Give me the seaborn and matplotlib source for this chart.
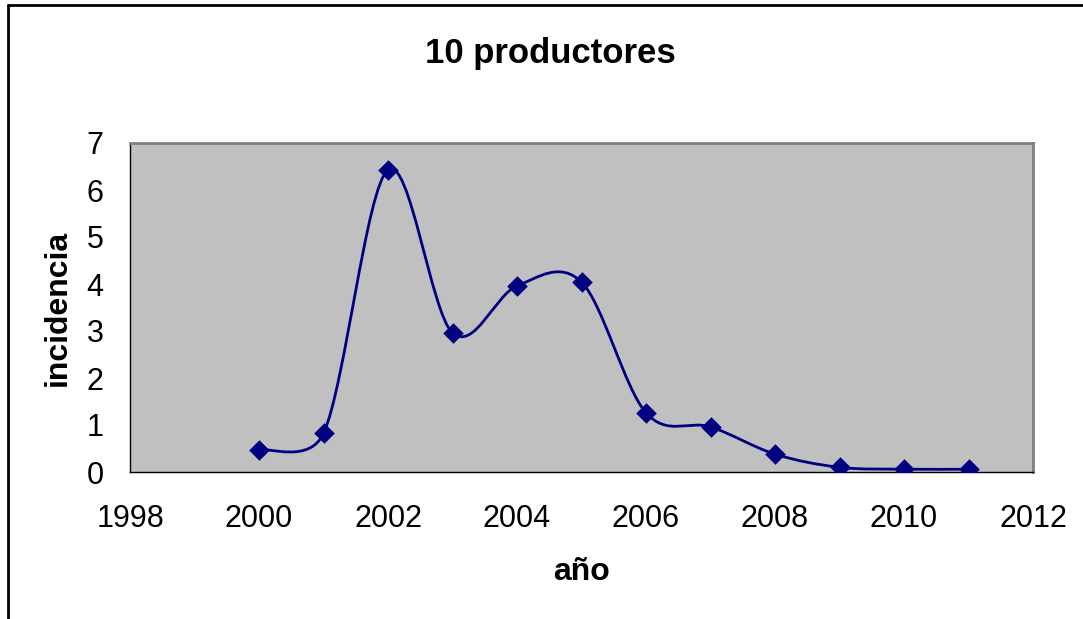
import matplotlib
matplotlib.use("Agg")
import matplotlib.pyplot as plt
import seaborn as sns
import numpy as np
import pandas as pd
from matplotlib.path import Path
from matplotlib.patches import PathPatch
from matplotlib.lines import Line2D

# datos
anios = [2000, 2001, 2002, 2003, 2004, 2005, 2006, 2007, 2008, 2009, 2010, 2011]
incidencia = [0.47, 0.82, 6.43, 2.96, 3.96, 4.04, 1.26, 0.96, 0.38, 0.10, 0.06, 0.06]
x_ticks = [1998, 2000, 2002, 2004, 2006, 2008, 2010, 2012]
y_ticks = [0, 1, 2, 3, 4, 5, 6, 7]

df = pd.DataFrame({"año": anios, "incidencia": incidencia})

sns.set_style("white", {"axes.facecolor": "#C0C0C0"})
plt.rcParams["font.family"] = ["Liberation Sans", "DejaVu Sans"]
plt.rcParams["text.color"] = "black"

fig = plt.figure(figsize=(10.83, 6.19), dpi=100)
ax = fig.add_axes([130 / 1083, 1 - 472 / 619, 903 / 1083, 329 / 619])
ax.set_xlim(1998, 2012)
ax.set_ylim(0, 7)


def curva_suave(ax, xs, ys):
    # linea suavizada estilo Excel: Bezier Catmull-Rom (1/6) con el brazo de
    # control limitado a la mitad del tramo (medido en pixeles)
    pts = np.column_stack([xs, ys]).astype(float)
    px = ax.transData.transform(pts)
    n = len(pts)
    verts = [pts[0]]
    codes = [Path.MOVETO]
    for i in range(n - 1):
        i0, i3 = max(i - 1, 0), min(i + 2, n - 1)
        largo = np.hypot(*(px[i + 1] - px[i]))
        t1 = (pts[i + 1] - pts[i0]) / 6.0
        t2 = (pts[i3] - pts[i]) / 6.0
        l1 = np.hypot(*((px[i + 1] - px[i0]) / 6.0))
        l2 = np.hypot(*((px[i3] - px[i]) / 6.0))
        if l1 > largo / 2:
            t1 = t1 * (largo / 2) / l1
        if l2 > largo / 2:
            t2 = t2 * (largo / 2) / l2
        verts += [pts[i] + t1, pts[i + 1] - t2, pts[i + 1]]
        codes += [Path.CURVE4] * 3
    return Path(verts, codes)


ax.add_patch(PathPatch(curva_suave(ax, df["año"], df["incidencia"]), fill=False,
                       edgecolor="#000080", linewidth=2, zorder=3))
sns.scatterplot(data=df, x="año", y="incidencia", marker="D", s=110,
                color="#000080", edgecolor="#000080", linewidth=0, zorder=4, ax=ax)

ax.set_xticks(x_ticks)
ax.set_yticks(y_ticks)
ax.tick_params(axis="both", direction="out", length=9, width=1, color="black",
               labelsize=22, labelcolor="black")
ax.tick_params(axis="y", pad=10)
ax.tick_params(axis="x", pad=14)

for lado in ["left", "bottom"]:
    ax.spines[lado].set_color("black")
    ax.spines[lado].set_linewidth(1)
for lado in ["top", "right"]:
    ax.spines[lado].set_visible(True)
    ax.spines[lado].set_color("#808080")
    ax.spines[lado].set_linewidth(2)

ax.set_xlabel("")
ax.set_ylabel("")
fig.text(582 / 1083, 1 - 580 / 619, "año", ha="center", va="baseline",
         fontsize=23, fontweight="bold", color="black")
fig.text(58 / 1083, 1 - 308 / 619, "incidencia", ha="center", va="center",
         rotation=90, fontsize=23, fontweight="bold", color="black")
fig.text(550 / 1083, 1 - 63 / 619, "10 productores", ha="center", va="baseline",
         fontsize=25, fontweight="bold", color="black")

# marco del area del grafico
fig.add_artist(Line2D([8 / 1083, 8 / 1083], [0, 1 - 5 / 619], color="black", linewidth=2))
fig.add_artist(Line2D([8 / 1083, 1], [1 - 5 / 619, 1 - 5 / 619], color="black", linewidth=2))

fig.savefig("out.png", dpi=100)
